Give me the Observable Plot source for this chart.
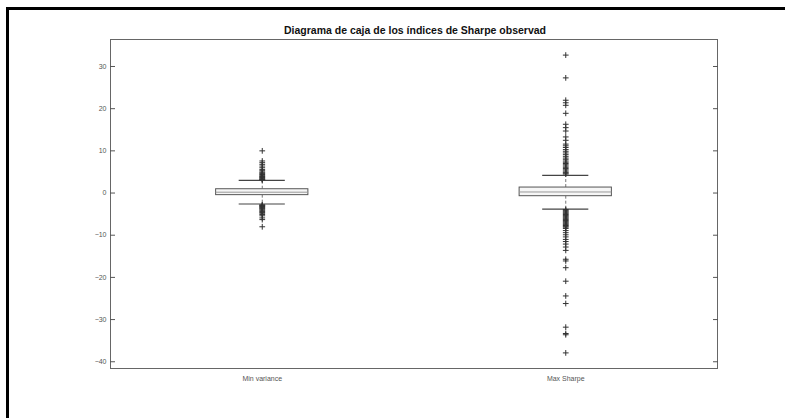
<!DOCTYPE html>
<html>
<head>
<meta charset="utf-8">
<script src="https://cdn.jsdelivr.net/npm/d3@7"></script>
<script src="https://cdn.jsdelivr.net/npm/@observablehq/plot@0.6"></script>
<style>
  html, body { margin: 0; padding: 0; background: #fff; }
  #wrap { position: relative; width: 785px; height: 418px; overflow: hidden; background: #fff; }
  #border { position: absolute; left: 6px; top: 7px; width: 800px; height: 430px;
            border-left: 3px solid #000; border-top: 3px solid #000; box-sizing: border-box; pointer-events: none; }
  #title { position: absolute; left: 284px; top: 24px; white-space: nowrap;
           font: bold 10.5px "Liberation Sans", Arial, sans-serif; line-height: 13px; color: #111; }
  #chart { position: absolute; left: 0; top: 0; }
</style>
</head>
<body>
<div id="wrap">
  <div id="chart"></div>
  <div id="title">Diagrama de caja de los índices de Sharpe observad</div>
  <div id="border"></div>
</div>
<script>
// Categories and box statistics
const categories = ["Min variance", "Max Sharpe"];
const positions = [1, 2];
const q1 = [-0.5, -0.75];
const medians = [0.2, 0.25];
const q3 = [0.9, 1.3];
const whiskerLow = [-2.6, -3.8];
const whiskerHigh = [3.0, 4.2];

// Outliers per category
const outliersMinVariance = [
  10.0, 7.6, 7.2, 6.8, 6.4, 6.0, 5.6, 5.3, 5.0, 4.8, 4.6, 4.4, 4.2, 4.0, 3.9, 3.7, 3.6, 3.4, 3.3, 3.2, 3.1,
  -2.8, -2.9, -3.0, -3.1, -3.2, -3.4, -3.5, -3.7, -3.8, -4.0, -4.2, -4.4, -4.6, -4.8, -5.1, -5.4, -5.9, -6.3, -8.0
];
const outliersMaxSharpe = [
  32.7, 27.3, 22.0, 21.4, 20.8, 18.9, 16.3, 15.5, 14.7, 13.3, 12.5, 11.6, 11.2, 10.8, 10.3, 9.9, 9.5, 9.1,
  8.7, 8.3, 8.0, 7.6, 7.3, 7.0, 6.7, 6.4, 6.1, 5.8, 5.5, 5.2, 4.9, 4.7, 4.5,
  -3.9, -4.1, -4.3, -4.5, -4.7, -4.9, -5.1, -5.3, -5.5, -5.7, -5.9, -6.1, -6.3, -6.5, -6.7, -6.9, -7.1, -7.3,
  -7.5, -7.7, -7.9, -8.1, -8.4, -8.9, -9.4, -9.9, -10.4, -11.0, -11.5, -12.1, -12.8, -13.6,
  -15.7, -16.1, -17.7, -20.9, -24.4, -26.2, -31.8, -33.3, -33.6, -37.9
];

const yTicks = [-40, -30, -20, -10, 0, 10, 20, 30];
const yDomain = [-41.6, 36.4];

const stats = categories.map((c, i) => ({
  cat: c, pos: positions[i], q1: q1[i], med: medians[i], q3: q3[i], lo: whiskerLow[i], hi: whiskerHigh[i]
}));
const outliers = [
  ...outliersMinVariance.map(v => ({pos: positions[0], v})),
  ...outliersMaxSharpe.map(v => ({pos: positions[1], v}))
];

const boxHalf = 0.152, capHalf = 0.076;
const fontFamily = '"Liberation Sans", Arial, sans-serif';

const plot = Plot.plot({
  width: 785,
  height: 418,
  marginLeft: 110,
  marginRight: 68,
  marginTop: 39,
  marginBottom: 50,
  style: {fontFamily, background: "transparent"},
  x: {domain: [0.5, 2.5], axis: null},
  y: {domain: yDomain, axis: null},
  marks: [
    Plot.frame({stroke: "#666", strokeWidth: 1}),
    // y axis: inward ticks on both sides (no text), labels on the left
    Plot.axisY(yTicks, {anchor: "left", tickSize: 5, dx: 5, stroke: "#555", tickFormat: () => "", label: null}),
    Plot.axisY(yTicks, {anchor: "right", tickSize: 5, dx: -5, stroke: "#555", tickFormat: () => "", label: null}),
    Plot.axisY(yTicks, {anchor: "left", tickSize: 0, tickPadding: 4, fontSize: 7, fill: "#555", label: null}),
    Plot.axisX(positions, {anchor: "bottom", tickSize: 0, tickPadding: 8, fontSize: 7, fill: "#555",
      tickFormat: p => categories[positions.indexOf(p)], label: null}),
    // whiskers (dashed)
    Plot.ruleX(stats, {x: "pos", y1: "q3", y2: "hi", stroke: "#777", strokeDasharray: "3,2"}),
    Plot.ruleX(stats, {x: "pos", y1: "q1", y2: "lo", stroke: "#777", strokeDasharray: "3,2"}),
    // caps
    Plot.ruleY(stats, {y: "hi", x1: d => d.pos - capHalf, x2: d => d.pos + capHalf, stroke: "#444", strokeWidth: 1.2}),
    Plot.ruleY(stats, {y: "lo", x1: d => d.pos - capHalf, x2: d => d.pos + capHalf, stroke: "#444", strokeWidth: 1.2}),
    // boxes
    Plot.rect(stats, {x1: d => d.pos - boxHalf, x2: d => d.pos + boxHalf, y1: "q1", y2: "q3",
      fill: "#f6f6f6", stroke: "#555", strokeWidth: 1}),
    Plot.ruleY(stats, {y: "med", x1: d => d.pos - boxHalf, x2: d => d.pos + boxHalf, stroke: "#999", strokeWidth: 1}),
    // outliers
    Plot.dot(outliers, {x: "pos", y: "v", symbol: "plus", r: 2, stroke: "#333", strokeWidth: 1})
  ]
});
document.getElementById("chart").appendChild(plot);
</script>
</body>
</html>
